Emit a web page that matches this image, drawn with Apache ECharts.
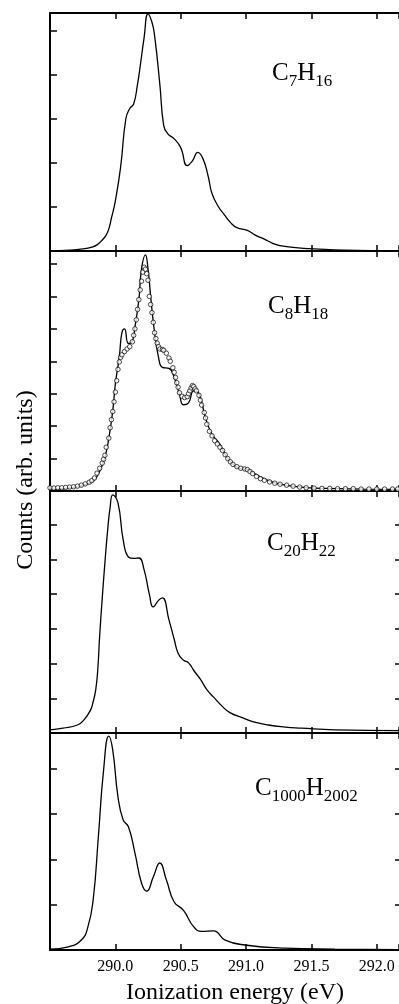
<!DOCTYPE html>
<html lang="en">
<head>
    <meta charset="UTF-8">
    <script src="https://cdn.jsdelivr.net/npm/echarts@6/dist/echarts.min.js"></script>
    <title>Ionization spectra</title>
    <style>
        html, body { margin: 0; padding: 0; background: #fff; }
    </style>
</head>
<body>
<div id="main" style="width: 399px;height:1004px;"></div>
<script type="text/javascript">
    // x range and tick labels
    var xMin = 289.5;
    var xMax = 292.17;
    var xTickLabels = ['290.0', '290.5', '291.0', '291.5', '292.0'];

    // panel names and y extents (arb. units)
    var molecules = ['C7H16', 'C8H18', 'C20H22', 'C1000H2002'];
    var yMaxes = [5.41, 7.4, 6.97, 4.79];

    // C7H16 spectrum
    var c7h16 = [
        [289.50, 0.0], [289.65, 0.02], [289.75, 0.05], [289.82, 0.09], [289.86, 0.14],
        [289.90, 0.25], [289.94, 0.42], [289.97, 0.75], [290.00, 1.14], [290.04, 1.9],
        [290.08, 3.0], [290.11, 3.24], [290.14, 3.34], [290.17, 3.8], [290.19, 4.2],
        [290.22, 4.85], [290.25, 5.39], [290.28, 5.2], [290.30, 4.9], [290.34, 3.8],
        [290.37, 2.85], [290.40, 2.67], [290.45, 2.55], [290.50, 2.35], [290.55, 1.94],
        [290.59, 2.05], [290.63, 2.24], [290.67, 2.1], [290.71, 1.7], [290.74, 1.3],
        [290.79, 1.0], [290.83, 0.84], [290.88, 0.65], [290.93, 0.53], [291.01, 0.47],
        [291.07, 0.36], [291.14, 0.27], [291.20, 0.18], [291.26, 0.12], [291.40, 0.07],
        [291.52, 0.05], [291.75, 0.02], [292.17, 0.0]
    ];

    // C8H18 fit (solid line)
    var c8h18Fit = [
        [289.50, 0.05], [289.60, 0.07], [289.70, 0.12], [289.76, 0.19], [289.82, 0.28],
        [289.86, 0.45], [289.90, 0.8], [289.93, 1.2], [289.95, 1.63], [289.98, 2.47],
        [290.00, 3.3], [290.03, 4.13], [290.05, 4.88], [290.07, 5.0], [290.10, 4.55],
        [290.13, 4.62], [290.15, 5.06], [290.18, 5.9], [290.20, 6.84], [290.23, 7.28],
        [290.25, 6.84], [290.27, 6.0], [290.30, 4.88], [290.33, 4.13], [290.36, 3.81],
        [290.41, 3.78], [290.45, 3.5], [290.49, 3.0], [290.52, 2.66], [290.56, 2.72],
        [290.60, 3.09], [290.64, 3.0], [290.69, 2.25], [290.74, 1.75], [290.80, 1.44],
        [290.85, 1.05], [290.90, 0.82], [290.95, 0.7], [291.01, 0.66], [291.08, 0.5],
        [291.15, 0.36], [291.25, 0.22], [291.40, 0.13], [291.60, 0.08], [291.90, 0.06],
        [292.17, 0.05]
    ];

    // C8H18 measured (circles)
    var c8h18Data = [
        [289.50, 0.10], [289.53, 0.09], [289.56, 0.10], [289.59, 0.10], [289.62, 0.11],
        [289.65, 0.12], [289.68, 0.13], [289.71, 0.15], [289.74, 0.18], [289.77, 0.22],
        [289.80, 0.27], [289.82, 0.32], [289.84, 0.40], [289.86, 0.55], [289.88, 0.70],
        [289.90, 0.86], [289.91, 0.98], [289.92, 1.1], [289.93, 1.35], [289.95, 1.63],
        [289.96, 1.95], [289.97, 2.2], [289.98, 2.45], [289.99, 2.75], [290.00, 3.05],
        [290.01, 3.4], [290.02, 3.75], [290.03, 3.98], [290.04, 4.12], [290.05, 4.2],
        [290.07, 4.3], [290.09, 4.38], [290.11, 4.45], [290.13, 4.6], [290.14, 4.8],
        [290.15, 5.0], [290.16, 5.28], [290.17, 5.6], [290.18, 5.9], [290.19, 6.2],
        [290.20, 6.47], [290.21, 6.75], [290.22, 6.9], [290.23, 6.84], [290.24, 6.7],
        [290.25, 6.5], [290.26, 6.0], [290.27, 5.75], [290.28, 5.5], [290.29, 5.2],
        [290.30, 4.88], [290.31, 4.7], [290.32, 4.56], [290.33, 4.45], [290.34, 4.38],
        [290.36, 4.36], [290.37, 4.34], [290.39, 4.25], [290.41, 4.1], [290.42, 4.0],
        [290.44, 3.8], [290.45, 3.66], [290.46, 3.5], [290.47, 3.34], [290.48, 3.2],
        [290.49, 3.03], [290.51, 2.92], [290.53, 2.88], [290.55, 2.91], [290.56, 3.0],
        [290.57, 3.09], [290.58, 3.18], [290.59, 3.25], [290.60, 3.22], [290.61, 3.15],
        [290.62, 3.09], [290.64, 2.95], [290.65, 2.8], [290.66, 2.65], [290.68, 2.42],
        [290.69, 2.25], [290.70, 2.06], [290.72, 1.84], [290.74, 1.7], [290.76, 1.55],
        [290.78, 1.45], [290.80, 1.35], [290.82, 1.25], [290.84, 1.12], [290.86, 1.0],
        [290.88, 0.9], [290.90, 0.82], [290.93, 0.75], [290.96, 0.7], [290.99, 0.68],
        [291.01, 0.66], [291.03, 0.6], [291.05, 0.54], [291.08, 0.45], [291.11, 0.38],
        [291.14, 0.33], [291.18, 0.28], [291.22, 0.24], [291.26, 0.21], [291.31, 0.18],
        [291.36, 0.15], [291.41, 0.12], [291.46, 0.10], [291.52, 0.09], [291.58, 0.08],
        [291.64, 0.08], [291.70, 0.07], [291.76, 0.07], [291.82, 0.07], [291.88, 0.06],
        [291.94, 0.06], [292.00, 0.06], [292.06, 0.06], [292.12, 0.06], [292.16, 0.06]
    ];

    // C20H22 spectrum
    var c20h22 = [
        [289.50, 0.09], [289.60, 0.14], [289.71, 0.23], [289.76, 0.38], [289.81, 0.66],
        [289.83, 0.9], [289.85, 1.25], [289.865, 1.8], [289.88, 2.8], [289.90, 3.9],
        [289.92, 4.9], [289.94, 5.8], [289.96, 6.5], [289.98, 6.86], [290.02, 6.63],
        [290.06, 5.56], [290.10, 5.07], [290.14, 5.03], [290.18, 5.04], [290.22, 4.7],
        [290.26, 4.0], [290.29, 3.63], [290.33, 3.82], [290.36, 3.89], [290.41, 3.26],
        [290.45, 2.7], [290.48, 2.3], [290.52, 2.1], [290.56, 2.02], [290.60, 1.8],
        [290.65, 1.55], [290.70, 1.25], [290.75, 1.04], [290.82, 0.76], [290.88, 0.58],
        [290.98, 0.43], [291.05, 0.33], [291.17, 0.23], [291.30, 0.17], [291.42, 0.14],
        [291.68, 0.09], [292.17, 0.07]
    ];

    // C1000H2002 spectrum
    var c1000h2002 = [
        [289.50, 0.02], [289.64, 0.07], [289.74, 0.22], [289.79, 0.51], [289.83, 1.1],
        [289.87, 2.5], [289.91, 3.97], [289.95, 4.72], [289.98, 4.41], [290.02, 3.38],
        [290.06, 2.87], [290.10, 2.72], [290.15, 2.14], [290.20, 1.48], [290.24, 1.3],
        [290.29, 1.61], [290.34, 1.92], [290.39, 1.55], [290.45, 1.06], [290.52, 0.88],
        [290.60, 0.51], [290.66, 0.41], [290.75, 0.42], [290.84, 0.22], [290.99, 0.11],
        [291.30, 0.04], [291.68, 0.02], [292.17, 0.01]
    ];

    var myChart = echarts.init(document.getElementById('main'));

    var serif = 'Liberation Serif';
    var panels = [
        { top: 13, height: 238, rightTicks: false },
        { top: 251, height: 240, rightTicks: false },
        { top: 491, height: 242, rightTicks: true },
        { top: 733, height: 217, rightTicks: true }
    ];

    var grids = [], xAxes = [], yAxes = [];
    panels.forEach(function (p, i) {
        grids.push({ left: 50, right: 0, top: p.top, height: p.height, outerBoundsMode: 'none' });
        var last = i === panels.length - 1;
        ['bottom', 'top'].forEach(function (pos) {
            xAxes.push({
                type: 'value', gridIndex: i, position: pos,
                min: xMin, max: xMax, interval: 0.5,
                axisLine: { show: true, onZero: false, lineStyle: { color: '#000', width: 2 } },
                axisTick: { inside: true, length: 6, lineStyle: { color: '#000', width: 1.5 } },
                axisLabel: {
                    show: last && pos === 'bottom', margin: 9,
                    color: '#000', fontFamily: serif, fontSize: 16,
                    formatter: function (v) {
                        var s = v.toFixed(1);
                        return xTickLabels.indexOf(s) >= 0 ? s : '';
                    }
                },
                splitLine: { show: false }
            });
        });
        ['left', 'right'].forEach(function (pos) {
            var isLeft = pos === 'left';
            yAxes.push({
                type: 'value', gridIndex: i, position: pos,
                min: 0, max: yMaxes[i], interval: 1,
                axisLine: { show: isLeft, onZero: false, lineStyle: { color: '#000', width: 2 } },
                axisTick: { show: isLeft || p.rightTicks, inside: true, length: isLeft ? 7 : 4,
                    lineStyle: { color: '#000', width: 1.5 } },
                axisLabel: { show: false },
                splitLine: { show: false }
            });
        });
    });

    var lineStyle = { color: '#000', width: 1.3 };
    function curve(data, i) {
        return { type: 'line', data: data, xAxisIndex: 2 * i, yAxisIndex: 2 * i,
            smooth: 0.5, showSymbol: false, lineStyle: lineStyle, z: 3 };
    }

    var series = [
        curve(c7h16, 0),
        curve(c8h18Fit, 1),
        {
            type: 'scatter', data: c8h18Data, xAxisIndex: 2, yAxisIndex: 2,
            symbol: 'circle', symbolSize: 4.5, z: 4,
            itemStyle: { color: '#fff', borderColor: '#000', borderWidth: 0.9 }
        },
        curve(c20h22, 2),
        curve(c1000h2002, 3)
    ];

    // molecule labels with subscripts
    var labelPos = [[272, 61], [268, 294], [267, 531], [255, 776]];
    function formula(name) {
        return name.replace(/([A-Z])(\d+)/g, '{m|$1}{s|$2}');
    }
    var graphics = molecules.map(function (name, i) {
        return {
            type: 'text', x: labelPos[i][0], y: labelPos[i][1],
            style: {
                text: formula(name), verticalAlign: 'top',
                rich: {
                    m: { fontFamily: serif, fontSize: 25, lineHeight: 25, fill: '#000' },
                    s: { fontFamily: serif, fontSize: 17, lineHeight: 17, padding: [17, 0, 0, 0], fill: '#000' }
                }
            }
        };
    });
    graphics.push({
        type: 'text', x: 26, y: 480, rotation: Math.PI / 2,
        style: { text: 'Counts (arb. units)', fontFamily: serif, fontSize: 24, fill: '#000',
            align: 'center', verticalAlign: 'middle' }
    });
    graphics.push({
        type: 'text', x: 235, y: 993,
        style: { text: 'Ionization energy (eV)', fontFamily: serif, fontSize: 24, fill: '#000',
            align: 'center', verticalAlign: 'middle' }
    });

    var option = {
        animation: false,
        backgroundColor: '#fff',
        grid: grids,
        xAxis: xAxes,
        yAxis: yAxes,
        series: series,
        graphic: graphics
    };

    myChart.setOption(option);
</script>
</body>
</html>
